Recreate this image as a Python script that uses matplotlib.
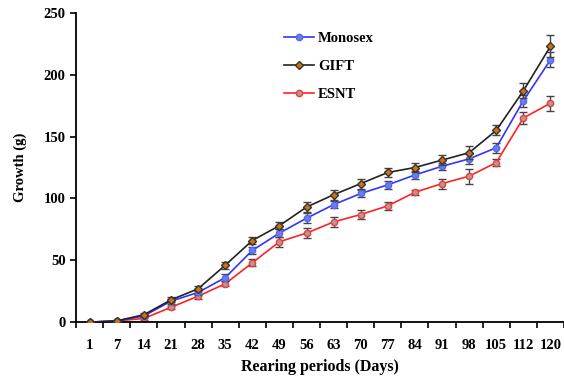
import numpy as np
import matplotlib.pyplot as plt

days = ["1", "7", "14", "21", "28", "35", "42", "49", "56", "63",
        "70", "77", "84", "91", "98", "105", "112", "120"]

monosex = [0, 1, 5, 17, 24, 36, 58, 72, 84, 95, 104, 111, 119, 126, 132, 141, 179, 212]
monosex_err = [0.5, 0.5, 1, 2, 2, 3, 3, 3, 4, 3, 3, 3, 3, 3, 4, 4, 5, 6]

gift = [0, 1, 6, 18, 27, 46, 66, 78, 93, 103, 112, 121, 125, 131, 137, 155, 187, 223]
gift_err = [0.5, 0.5, 1, 2, 2, 3, 3, 3, 4, 4, 4, 4, 4, 4, 5, 4, 6, 9]

esnt = [0, 1, 3, 12, 21, 31, 48, 65, 72, 81, 87, 94, 105, 112, 118, 129, 165, 177]
esnt_err = [0.5, 0.5, 1, 1, 2, 2, 3, 4, 4, 4, 4, 3, 2, 4, 6, 3, 5, 6]

plt.rcParams["font.family"] = ["Liberation Serif", "DejaVu Serif"]
plt.rcParams["font.weight"] = "bold"

fig = plt.figure(figsize=(5.64, 3.79), dpi=100)
ax = fig.add_axes([0.135, 0.15, 0.865, 0.816])

x = np.arange(len(days))

series = [
    ("Monosex", monosex, monosex_err, "#3333ff", "o", 4.5, "#6680ee", "#5566ee", 3),
    ("GIFT", gift, gift_err, "#222222", "D", 3.8, "#d0700f", "#333333", 4),
    ("ESNT", esnt, esnt_err, "#ff2222", "o", 4.5, "#a0a0a0", "#ff3333", 2),
]

for name, vals, err, col, mk, ms, mfc, mec, z in series:
    ax.errorbar(x, vals, yerr=err, fmt="none", ecolor="#444444",
                elinewidth=1, capsize=3, zorder=z)
    ax.plot(x, vals, color=col, lw=1.2, marker=mk, ms=ms, mfc=mfc, mec=mec,
            label=name, zorder=z + 0.5)

ax.set_xlim(-0.5, len(days) - 0.5)
ax.set_ylim(0, 250)
ax.set_yticks([0, 50, 100, 150, 200, 250])
ax.set_xticks(x)
ax.set_xticklabels(days)
ax.set_xticks(np.arange(-0.5, len(days), 1), minor=True)
ax.tick_params(axis="x", which="major", length=0, pad=12, labelsize=10.5)
ax.tick_params(axis="x", which="minor", length=4, width=1.2, direction="out")
ax.tick_params(axis="y", length=4, width=1.2, direction="out", labelsize=10.5)

for s in ["top", "right"]:
    ax.spines[s].set_visible(False)
for s in ["left", "bottom"]:
    ax.spines[s].set_linewidth(1.3)

ax.set_ylabel("Growth (g)", fontsize=10.5, fontweight="bold", labelpad=12)
ax.set_xlabel("Rearing periods (Days)", fontsize=11.5, fontweight="bold", labelpad=5)

ax.legend(loc="upper left", bbox_to_anchor=(0.4, 0.98), frameon=False,
          fontsize=10.5, handlelength=2.0, labelspacing=1.0,
          handletextpad=0.3)

fig.savefig("out.png", dpi=100)
